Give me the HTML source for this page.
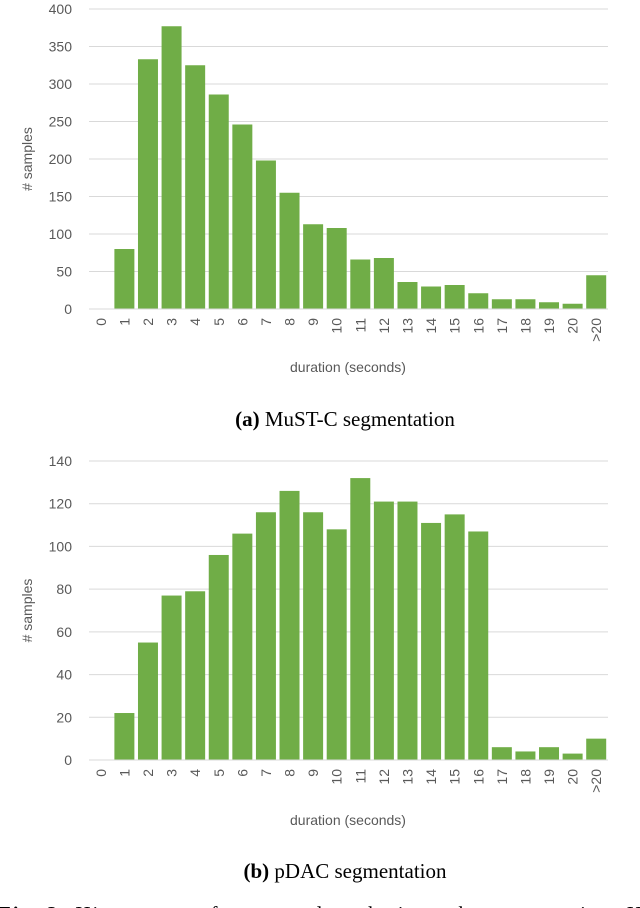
<!DOCTYPE html>
<html><head><meta charset="utf-8"><style>
body{margin:0;background:#fff;width:640px;height:908px;overflow:hidden;position:relative}
svg{position:absolute;left:0;top:0}
.t{font-family:"Liberation Sans",sans-serif;fill:#595959}
.c{font-family:"Liberation Serif",serif;fill:#000;font-size:21px}
</style></head><body>
<svg id="s" width="640" height="908">
<text class="c" x="345" y="426" text-anchor="middle"><tspan font-weight="bold">(a)</tspan> MuST-C segmentation</text>
<text class="c" x="345" y="878" text-anchor="middle"><tspan font-weight="bold">(b)</tspan> pDAC segmentation</text>
<text class="c" x="-2" y="921" textLength="644" lengthAdjust="spacing"><tspan font-weight="bold">Fig. 2:</tspan> Histograms of segment lengths in each segmentation. H</text>
</svg>
<script>
const categories=["0","1","2","3","4","5","6","7","8","9","10","11","12","13","14","15","16","17","18","19","20",">20"];
const mustcValues=[0,80,333,377,325,286,246,198,155,113,108,66,68,36,30,32,21,13,13,9,7,45];
const pdacValues=[0,22,55,77,79,96,106,116,126,116,108,132,121,121,111,115,107,6,4,6,3,10];
const mustcTicks=[0,50,100,150,200,250,300,350,400];
const pdacTicks=[0,20,40,60,80,100,120,140];
const svg=document.getElementById('s');
const NS='http://www.w3.org/2000/svg';
function mk(t,a){const e=document.createElementNS(NS,t);for(const k in a)e.setAttribute(k,a[k]);svg.appendChild(e);return e;}
function chart(name,vals,ticks,y0,y1,maxV,titleY){
  const L=89,R=608,n=categories.length,bw=(R-L)/n;
  const yS=v=>y0-(v/maxV)*(y0-y1);
  const xS=i=>L+i*bw;
  ticks.forEach(t=>{
    if(t>0){const g=mk('line',{x1:L,x2:R,y1:yS(t),y2:yS(t),stroke:'#d9d9d9','stroke-width':1});
    
    }
    const tx=mk('text',{x:72,y:yS(t)+5,'text-anchor':'end','font-size':14,class:'t'});tx.textContent=t;
    
    
  });
  vals.forEach((v,i)=>{
    const r=mk('rect',{x:xS(i)+1.8,y:yS(v),width:bw-3.6,height:y0-yS(v),fill:'#70ad47'});
    
    
    const cx=xS(i)+bw/2;
    const tx=mk('text',{x:0,y:0,'text-anchor':'end','font-size':14,class:'t',transform:`translate(${cx+5},${y0+9}) rotate(-90)`});tx.textContent=categories[i];
    
    
  });
  const ax=mk('line',{x1:L,x2:R,y1:y0,y2:y0,stroke:'#d9d9d9','stroke-width':1});
  
  
  const xt=mk('text',{x:348,y:titleY,'text-anchor':'middle','font-size':14,class:'t'});xt.textContent='duration (seconds)';
  
  
  const yt=mk('text',{x:0,y:0,'text-anchor':'middle','font-size':14,class:'t',transform:`translate(32,${(y0+y1)/2}) rotate(-90)`});yt.textContent='# samples';
  
  
}
chart('mustc',mustcValues,mustcTicks,309,9,400,372);
chart('pdac',pdacValues,pdacTicks,760,461,140,825);
</script>
</body></html>
